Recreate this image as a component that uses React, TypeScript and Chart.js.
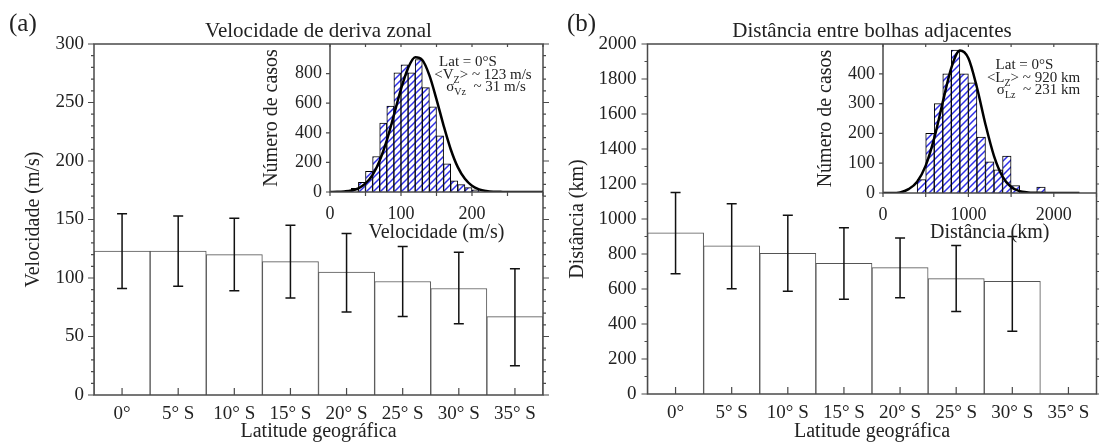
import React, { useEffect, useRef } from 'react';
import { Chart, registerables } from 'chart.js';

Chart.register(...registerables);

// ---------- data ----------
const latLabels = ['0°', '5° S', '10° S', '15° S', '20° S', '25° S', '30° S', '35° S'];

const velMean = [123, 123, 120, 114, 105, 97, 91, 67];
const velLow = [91, 93, 89, 83, 71, 67, 61, 25];
const velHigh = [155, 153, 151, 145, 138, 127, 122, 108];

const distMean = [921, 846, 804, 747, 722, 659, 644, null];
const distLow = [687, 602, 587, 541, 550, 472, 358, null];
const distHigh = [1152, 1087, 1021, 950, 891, 848, 900, null];

const velBinCenters = [35, 45, 55, 65, 75, 85, 95, 105, 115, 125, 135, 145, 155, 165, 175, 185, 195, 205];
const velBinCounts = [25, 65, 140, 240, 465, 580, 805, 860, 805, 895, 705, 575, 380, 190, 75, 50, 30, 15];
const velCurveX = [0, 10, 20, 30, 40, 50, 60, 70, 80, 90, 100, 110, 120, 130, 140, 150, 160, 170, 180, 190, 200, 210, 220, 230, 240, 250, 260, 270, 280, 290, 300];
const velCurveY = [0, 1, 4, 10, 25, 58, 116, 212, 348, 520, 695, 838, 910, 892, 788, 626, 449, 289, 168, 89, 42, 18, 7, 2, 1, 0, 0, 0, 0, 0, 0];

const distBinCenters = [450, 550, 650, 750, 850, 950, 1050, 1150, 1250, 1350, 1450, 1550, 1850];
const distBinCounts = [45, 200, 300, 400, 480, 400, 370, 188, 105, 78, 124, 25, 20];
const distCurveX = [0, 100, 200, 300, 400, 500, 600, 700, 800, 900, 1000, 1100, 1200, 1300, 1400, 1500, 1600, 1700, 1800, 1900, 2000, 2100, 2200, 2300];
const distCurveY = [0, 0, 2, 13, 38, 92, 184, 305, 420, 478, 452, 354, 230, 124, 55, 20, 6, 2, 1, 0, 0, 0, 0, 0];

const velInsetXLabels = [0, 100, 200];
const distInsetXLabels = [0, 1000, 2000];
const velInsetYLabels = [0, 200, 400, 600, 800];
const distInsetYLabels = [0, 100, 200, 300, 400];

const velNotes = ['Lat = 0°S', '123 m/s', '31 m/s'];
const distNotes = ['Lat = 0°S', '920 km', '231 km'];

// ---------- styles ----------
const FONT = "'Liberation Serif', 'Times New Roman', serif";
const TEXT = '#222';
const LINE = '#4a4a4a';

function makeHatch(): CanvasPattern | string {
  const c = document.createElement('canvas');
  c.width = 7;
  c.height = 7;
  const g = c.getContext('2d');
  if (!g) return '#ccf';
  g.fillStyle = '#fff';
  g.fillRect(0, 0, 7, 7);
  g.strokeStyle = '#2f2fe8';
  g.lineWidth = 1.5;
  g.beginPath();
  g.moveTo(0, 7); g.lineTo(7, 0);
  g.moveTo(-1, 1); g.lineTo(1, -1);
  g.moveTo(6, 8); g.lineTo(8, 6);
  g.stroke();
  return g.createPattern(c, 'repeat') || '#ccf';
}

function drawRich(ctx: CanvasRenderingContext2D, parts: { t: string; sub?: boolean }[], cx: number, base: number, size: number) {
  const widths = parts.map((p) => {
    ctx.font = `${p.sub ? Math.round(size * 0.68) : size}px ${FONT}`;
    return ctx.measureText(p.t).width;
  });
  const total = widths.reduce((s, w) => s + w, 0);
  let x = cx - total / 2;
  ctx.textAlign = 'left';
  ctx.textBaseline = 'alphabetic';
  parts.forEach((p, i) => {
    ctx.font = `${p.sub ? Math.round(size * 0.68) : size}px ${FONT}`;
    ctx.fillText(p.t, x, base + (p.sub ? size * 0.28 : 0));
    x += widths[i];
  });
}

function mainConfig(p: any) {
  const decor = {
    id: 'mainDecor',
    afterDatasetsDraw(chart: any) {
      const { ctx, chartArea: a, scales } = chart;
      const x = scales.x;
      const y = scales.y;
      ctx.save();
      // error bars
      ctx.strokeStyle = '#111';
      ctx.lineWidth = 1.5;
      p.low.forEach((lo: number | null, i: number) => {
        const hi = p.high[i];
        if (lo == null || hi == null) return;
        const px = x.getPixelForValue(i);
        const y1 = y.getPixelForValue(hi);
        const y2 = y.getPixelForValue(lo);
        ctx.beginPath();
        ctx.moveTo(px, y1); ctx.lineTo(px, y2);
        ctx.moveTo(px - 5, y1); ctx.lineTo(px + 5, y1);
        ctx.moveTo(px - 5, y2); ctx.lineTo(px + 5, y2);
        ctx.stroke();
      });
      // frame
      ctx.strokeStyle = LINE;
      ctx.lineWidth = 1.5;
      ctx.strokeRect(a.left, a.top, a.right - a.left, a.bottom - a.top);
      // y ticks, left and right
      ctx.lineWidth = 1.2;
      ctx.beginPath();
      for (let v = p.yMin; v <= p.yMax + 1e-6; v += p.yMinor) {
        const py = y.getPixelForValue(v);
        const len = Math.abs(v % p.yStep) < 1e-6 ? 6 : 3;
        ctx.moveTo(a.left - len, py); ctx.lineTo(a.left, py);
        ctx.moveTo(a.right, py); ctx.lineTo(a.right + len, py);
      }
      // category ticks (inward)
      p.labels.forEach((_: string, i: number) => {
        const px = x.getPixelForValue(i);
        ctx.moveTo(px, a.bottom); ctx.lineTo(px, a.bottom - 7);
      });
      ctx.stroke();
      // title and panel label
      ctx.fillStyle = TEXT;
      ctx.font = `21px ${FONT}`;
      ctx.textAlign = 'center';
      ctx.textBaseline = 'alphabetic';
      ctx.fillText(p.title, (a.left + a.right) / 2, a.top - 7);
      ctx.font = `25px ${FONT}`;
      ctx.textAlign = 'left';
      ctx.fillText(p.panel, p.panelX, 31);
      ctx.restore();
    },
  };
  return {
    type: 'bar',
    data: {
      labels: p.labels,
      datasets: [
        {
          data: p.mean,
          backgroundColor: '#fff',
          borderColor: '#555',
          borderWidth: 1,
          categoryPercentage: 1,
          barPercentage: 1,
        },
      ],
    },
    options: {
      animation: false,
      responsive: false,
      maintainAspectRatio: false,
      events: [],
      layout: { padding: { left: 0, top: 44, right: p.padRight, bottom: 0 } },
      plugins: { legend: { display: false }, tooltip: { enabled: false }, title: { display: false } },
      scales: {
        x: {
          grid: { display: false, drawTicks: false },
          border: { display: false },
          ticks: { font: { family: FONT, size: 19 }, color: TEXT, padding: 8, maxRotation: 0, autoSkip: false },
          title: { display: true, text: 'Latitude geográfica', font: { family: FONT, size: 20, lineHeight: 1 }, color: TEXT, padding: { top: 0, bottom: 1 } },
          afterFit: (s: any) => { s.height = p.xAxisHeight; },
        },
        y: {
          min: p.yMin,
          max: p.yMax,
          grid: { display: false, drawTicks: false },
          border: { display: false },
          ticks: {
            stepSize: p.yStep,
            font: { family: FONT, size: 19 },
            color: TEXT,
            padding: p.yTickPad,
            callback: (v: number) => String(v),
          },
          title: { display: true, text: p.yTitle, font: { family: FONT, size: 20, lineHeight: 1.2 }, color: TEXT, padding: { top: p.yTitlePad, bottom: 0 } },
          afterFit: (s: any) => { s.width = p.yAxisWidth; },
        },
      },
    },
    plugins: [decor],
  } as any;
}

function insetConfig(p: any) {
  const decor = {
    id: 'insetDecor',
    afterDatasetsDraw(chart: any) {
      const { ctx, chartArea: a, scales } = chart;
      const x = scales.x;
      const y = scales.y;
      ctx.save();
      ctx.strokeStyle = LINE;
      ctx.lineWidth = 1.5;
      ctx.beginPath();
      ctx.moveTo(a.left, a.top);
      ctx.lineTo(a.left, a.bottom);
      ctx.lineTo(a.right, a.bottom);
      ctx.stroke();
      ctx.lineWidth = 1.2;
      ctx.beginPath();
      for (let v = p.xMin; v <= p.xMax + 1e-6; v += p.xMinor) {
        const px = x.getPixelForValue(v);
        ctx.moveTo(px, a.top); ctx.lineTo(px, a.top + 3);
        ctx.moveTo(px, a.bottom); ctx.lineTo(px, a.bottom + 4);
      }
      p.yLabels.forEach((v: number) => {
        const py = y.getPixelForValue(v);
        ctx.moveTo(a.left - 4, py); ctx.lineTo(a.left, py);
      });
      ctx.stroke();
      ctx.fillStyle = TEXT;
      // x tick labels
      ctx.font = `18px ${FONT}`;
      ctx.textAlign = 'center';
      ctx.textBaseline = 'alphabetic';
      p.xLabels.forEach((v: number) => {
        ctx.fillText(String(v), x.getPixelForValue(v), a.bottom + 27);
      });
      // notes
      const n = p.notes;
      const sz = 15;
      drawRich(ctx, [{ t: n[0] }], a.right + p.noteDx[0], a.top + p.noteDy[0], sz);
      drawRich(ctx, [{ t: '<' + p.sym }, { t: 'Z', sub: true }, { t: '> ~ ' + n[1] }], a.right + p.noteDx[1], a.top + p.noteDy[1], sz);
      drawRich(ctx, [{ t: 'σ' }, { t: p.sym + 'z', sub: true }, { t: '  ~ ' + n[2] }], a.right + p.noteDx[2], a.top + p.noteDy[2], sz);
      ctx.restore();
    },
  };
  return {
    type: 'bar',
    data: {
      datasets: [
        {
          type: 'line',
          data: p.curveX.map((v: number, i: number) => ({ x: v, y: p.curveY[i] })),
          borderColor: '#000',
          borderWidth: 2.5,
          pointRadius: 0,
          cubicInterpolationMode: 'monotone',
          fill: false,
          order: 0,
        },
        {
          type: 'bar',
          data: p.binX.map((v: number, i: number) => ({ x: v, y: p.binY[i] })),
          backgroundColor: p.hatch,
          borderColor: '#000',
          borderWidth: 1,
          categoryPercentage: 1,
          barPercentage: 1,
          order: 1,
        },
      ],
    },
    options: {
      animation: false,
      responsive: false,
      maintainAspectRatio: false,
      events: [],
      layout: { padding: { left: 0, top: 44, right: p.padRight, bottom: 0 } },
      plugins: { legend: { display: false }, tooltip: { enabled: false }, title: { display: false } },
      scales: {
        x: {
          type: 'linear',
          min: p.xMin,
          max: p.xMax,
          offset: false,
          grid: { display: false, drawTicks: false },
          border: { display: false },
          ticks: { display: false },
          title: { display: true, text: p.xTitle, font: { family: FONT, size: 20, lineHeight: 1.2 }, color: TEXT, padding: { top: 0, bottom: p.xTitlePad } },
          afterFit: (s: any) => { s.height = p.xAxisHeight; },
        },
        y: {
          min: 0,
          max: p.yMax,
          grid: { display: false, drawTicks: false },
          border: { display: false },
          ticks: {
            stepSize: p.yStep,
            font: { family: FONT, size: 18 },
            color: TEXT,
            padding: p.yTickPad,
            callback: (v: number) => (p.yLabels.indexOf(Math.round(v)) >= 0 ? String(Math.round(v)) : ''),
          },
          title: { display: true, text: 'Número de casos', font: { family: FONT, size: 20, lineHeight: 1.2 }, color: TEXT, padding: { top: p.yTitlePad, bottom: 0 } },
          afterFit: (s: any) => { s.width = p.yAxisWidth; },
        },
      },
    },
    plugins: [decor],
  } as any;
}

export default function App() {
  const aRef = useRef<HTMLCanvasElement>(null);
  const bRef = useRef<HTMLCanvasElement>(null);
  const iaRef = useRef<HTMLCanvasElement>(null);
  const ibRef = useRef<HTMLCanvasElement>(null);

  useEffect(() => {
    document.body.style.margin = '0';
    document.body.style.overflow = 'hidden';
    const hatch = makeHatch();
    const charts: Chart[] = [];
    charts.push(
      new Chart(aRef.current as HTMLCanvasElement, mainConfig({
        labels: latLabels, mean: velMean, low: velLow, high: velHigh,
        yMin: 0, yMax: 300, yStep: 50, yMinor: 10,
        yTitle: 'Velocidade (m/s)', title: 'Velocidade de deriva zonal', panel: '(a)', panelX: 9,
        padRight: 7, yAxisWidth: 94, xAxisHeight: 48, yTickPad: 10, yTitlePad: 22,
      }))
    );
    charts.push(
      new Chart(bRef.current as HTMLCanvasElement, mainConfig({
        labels: latLabels, mean: distMean, low: distLow, high: distHigh,
        yMin: 0, yMax: 2000, yStep: 200, yMinor: 100,
        yTitle: 'Distância (km)', title: 'Distância entre bolhas adjacentes', panel: '(b)', panelX: 17,
        padRight: 2.5, yAxisWidth: 97.5, xAxisHeight: 49, yTickPad: 11, yTitlePad: 16,
      }))
    );
    charts.push(
      new Chart(iaRef.current as HTMLCanvasElement, insetConfig({
        curveX: velCurveX, curveY: velCurveY, binX: velBinCenters, binY: velBinCounts, hatch,
        xMin: 0, xMax: 300, xMinor: 50, xLabels: velInsetXLabels, xTitle: 'Velocidade (m/s)',
        yMax: 1000, yStep: 200, yLabels: velInsetYLabels,
        padRight: 7, yAxisWidth: 80, xAxisHeight: 58, yTickPad: 8, yTitlePad: 10, xTitlePad: 5,
        notes: velNotes, sym: 'V', noteDx: [-75, -60, -57], noteDy: [22, 35, 47],
      }))
    );
    charts.push(
      new Chart(ibRef.current as HTMLCanvasElement, insetConfig({
        curveX: distCurveX, curveY: distCurveY, binX: distBinCenters, binY: distBinCounts, hatch,
        xMin: 0, xMax: 2500, xMinor: 500, xLabels: distInsetXLabels, xTitle: 'Distância (km)',
        yMax: 500, yStep: 100, yLabels: distInsetYLabels,
        padRight: 2.5, yAxisWidth: 83, xAxisHeight: 57, yTickPad: 8, yTitlePad: 14, xTitlePad: 5,
        notes: distNotes, sym: 'L', noteDx: [-72, -63, -58], noteDy: [25, 38, 50],
      }))
    );
    return () => charts.forEach((c) => c.destroy());
  }, []);

  const abs = (left: number): React.CSSProperties => ({ position: 'absolute', left, top: 0 });
  return (
    <div style={{ position: 'relative', width: 1099, height: 443, background: '#fff', overflow: 'hidden' }}>
      <canvas ref={aRef} width={550} height={443} style={abs(0)} />
      <canvas ref={bRef} width={549} height={443} style={abs(550)} />
      <canvas ref={iaRef} width={300} height={250} style={abs(250)} />
      <canvas ref={ibRef} width={299} height={250} style={abs(800)} />
    </div>
  );
}
